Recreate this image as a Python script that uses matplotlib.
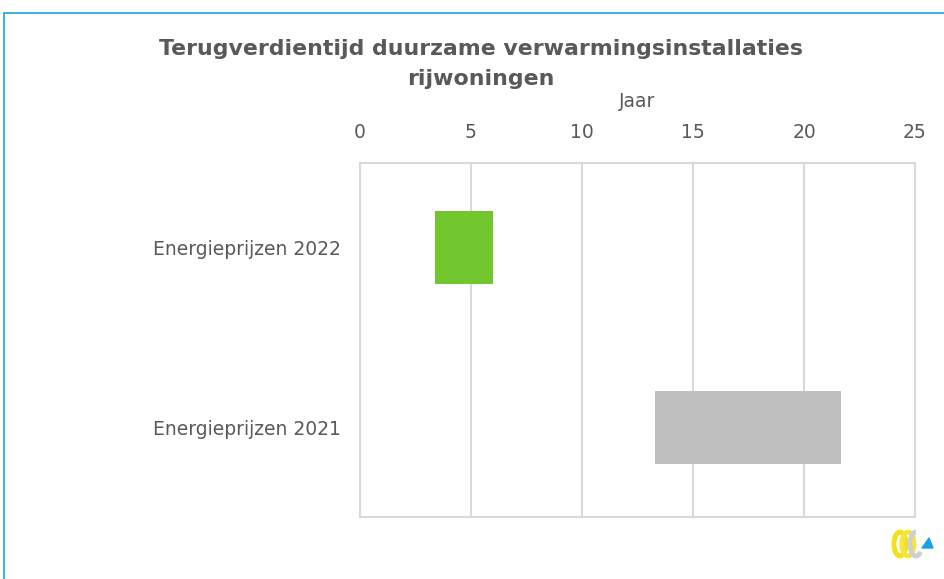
import matplotlib.pyplot as plt
import matplotlib.patches as mpatches
import numpy as np

# data
categories = ["Energieprijzen 2021", "Energieprijzen 2022"]
start_years = [13.3, 3.4]
end_years = [21.65, 6.0]
bar_colors = ["#bfbfbf", "#72c72f"]
ticks = [0, 5, 10, 15, 20, 25]

txt = "#595959"
grid = "#d9d9d9"

fig = plt.figure(figsize=(9.44, 5.79), dpi=100)
ax = fig.add_axes([360/944, 1-517/579, 555/944, 354/579])

ypos = np.arange(len(categories))
widths = [e - s for s, e in zip(start_years, end_years)]
ax.barh(ypos, widths, left=start_years, height=0.405, color=bar_colors, zorder=3)

ax.set_xlim(0, 25)
ax.set_ylim(-0.497, 1.469)
ax.set_xticks(ticks)
ax.set_xticklabels([str(t) for t in ticks])
ax.xaxis.tick_top()
ax.tick_params(axis='x', length=0, pad=15, labelsize=13.5, labelcolor=txt)
ax.set_yticks(ypos)
ax.set_yticklabels(categories)
ax.tick_params(axis='y', length=0, pad=14, labelsize=13.5, labelcolor=txt)
ax.xaxis.set_label_position('top')
ax.set_xlabel("Jaar", fontsize=13.5, color=txt, labelpad=12)
ax.grid(axis='x', color=grid, linewidth=1.5, zorder=0)
for sp in ax.spines.values():
    sp.set_color(grid)
    sp.set_linewidth(1.5)

fig.text(481/944, 1-64/579, "Terugverdientijd duurzame verwarmingsinstallaties\nrijwoningen",
         ha='center', va='center', fontsize=15.8, fontweight='bold', color=txt, linespacing=1.6)

# blue frame around the chart
fig.patches.append(mpatches.Rectangle((4/944, -0.1), 1.2, 1 - 13/579 + 0.1, transform=fig.transFigure,
                                      fill=False, edgecolor="#1ba1e2", linewidth=1.2))

# small logo at bottom right
lax = fig.add_axes([888/944, 1-560/579, 50/944, 34/579])
lax.set_xlim(0, 50)
lax.set_ylim(0, 34)
lax.axis('off')
lax.add_patch(mpatches.Ellipse((12, 16), 12, 24, fill=False, edgecolor="#f3e01a", linewidth=3.5))
lax.add_patch(mpatches.Ellipse((20, 16), 12, 24, fill=False, edgecolor="#f5e63a", linewidth=3.5))
lax.add_patch(mpatches.Arc((28, 16), 12, 24, theta1=90, theta2=300, edgecolor="#cfcfcf", linewidth=3.5))
lax.add_patch(mpatches.Polygon([[34, 12], [45, 12], [41, 22]], color="#1ba1e2"))

fig.savefig("out.png", dpi=100)
